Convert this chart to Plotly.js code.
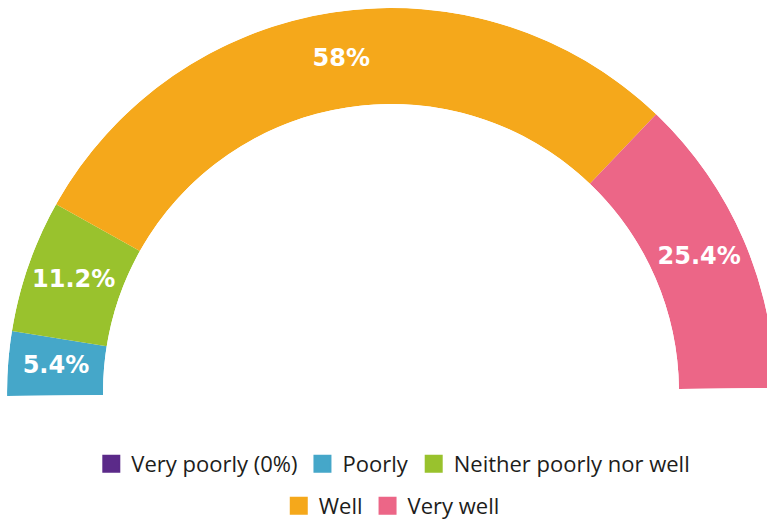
<!DOCTYPE html>
<html>
<head>
<meta charset="utf-8">
<script src="https://cdn.plot.ly/plotly-3.0.1.min.js"></script>
<style>
  html, body { margin: 0; padding: 0; overflow: hidden; background: #fff; }
  #chart { width: 780px; height: 521px; }
</style>
</head>
<body>
<div id="chart"></div>
<script>
const categories = ["Very poorly (0%)", "Poorly", "Neither poorly nor well", "Well", "Very well"];
const values = [0, 5.4, 11.2, 58, 25.4];
const colors = ["#5B2A89", "#45A7C9", "#99C22D", "#F5A81B", "#EC6687"];
const labels = values.map(v => v > 0 ? v + "%" : "");

const total = values.reduce((a, b) => a + b, 0);
const degPer = 180 / total;
let cum = 0;
const mids = [], widths = [];
values.forEach(v => {
  mids.push((cum + v / 2) * degPer);
  widths.push(v * degPer);
  cum += v;
});

// slices
const traces = categories.map((c, i) => ({
  type: "barpolar",
  name: c,
  r: [1],
  theta: [mids[i]],
  width: [widths[i]],
  base: 0,
  marker: { color: colors[i], line: { width: 0 } },
  legendgroup: "g" + i,
  showlegend: false,
  hoverinfo: "name"
}));

// legend entries (square swatches)
categories.forEach((c, i) => {
  traces.push({
    type: "scatterpolar",
    mode: "markers",
    name: c,
    r: [null],
    theta: [null],
    marker: { symbol: "square", size: 16, color: colors[i], line: { width: 2, color: colors[i] } },
    legendgroup: "g" + i,
    legend: i < 3 ? "legend" : "legend2",
    hoverinfo: "skip"
  });
});

// percentage labels
traces.push({
  type: "scatterpolar",
  mode: "text",
  r: values.map(() => 0.5),
  theta: mids,
  text: labels,
  textfont: { family: "DejaVu Sans, sans-serif", size: 24, color: "#ffffff", weight: 700 },
  showlegend: false,
  hoverinfo: "skip"
});

const tilt = 0.6;
const legendFont = { family: "Open Sans, sans-serif", size: 22, color: "#1d1d1b" };

const layout = {
  width: 780,
  height: 521,
  margin: { l: 7, r: 5, t: 8, b: 0, autoexpand: false },
  paper_bgcolor: "#ffffff",
  plot_bgcolor: "#ffffff",
  polar: {
    domain: { x: [0, 1], y: [0.2437, 1] },
    sector: [tilt, 180 + tilt],
    hole: 0.75,
    bgcolor: "rgba(0,0,0,0)",
    radialaxis: { range: [0, 1], visible: false },
    angularaxis: { visible: false, rotation: 180 + tilt, direction: "clockwise", thetaunit: "degrees" }
  },
  legend: {
    orientation: "h", x: 0.503, xanchor: "center", y: 0.111, yanchor: "middle",
    font: legendFont, bgcolor: "rgba(0,0,0,0)", itemwidth: 30
  },
  legend2: {
    orientation: "h", x: 0.501, xanchor: "center", y: 0.0292, yanchor: "middle",
    font: legendFont, bgcolor: "rgba(0,0,0,0)", itemwidth: 30
  },
  showlegend: true
};

Plotly.newPlot("chart", traces, layout, { displayModeBar: false, staticPlot: true });
</script>
</body>
</html>
